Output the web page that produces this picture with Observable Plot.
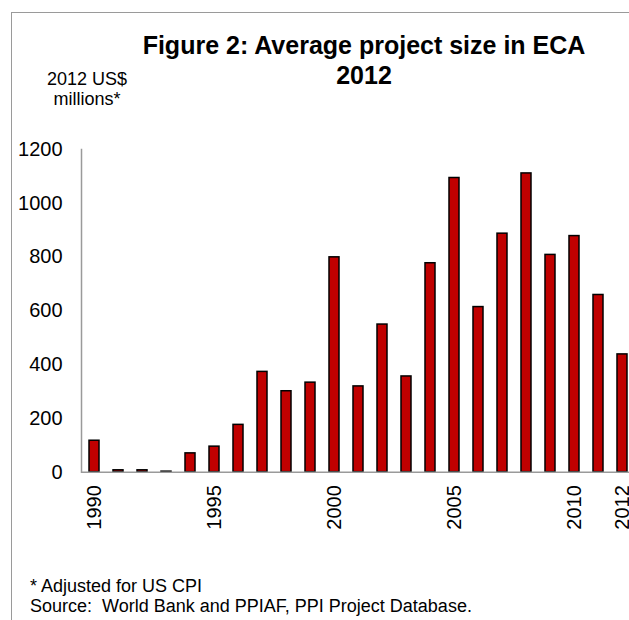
<!DOCTYPE html>
<html>
<head>
<meta charset="utf-8">
<script src="https://cdn.jsdelivr.net/npm/d3@7"></script>
<script src="https://cdn.jsdelivr.net/npm/@observablehq/plot@0.6"></script>
<style>
  html, body { margin: 0; padding: 0; background: #fff; }
  #wrap { position: relative; width: 629px; height: 620px; overflow: hidden; background: #fff;
          font-family: "Liberation Sans", Arial, sans-serif; color: #000; }
  #frame { position: absolute; left: 11px; top: 12px; width: 700px; height: 700px;
           border-top: 1.5px solid #9a9a9a; border-left: 1.5px solid #9a9a9a; }
  #title { position: absolute; left: 64px; width: 600px; top: 29.6px; text-align: center;
           font-weight: bold; font-size: 25px; line-height: 30px; }
  #unit { position: absolute; left: 7px; width: 160px; top: 68.8px; text-align: center;
          font-size: 18px; line-height: 20px; }
  #notes { position: absolute; left: 30px; top: 575.5px; font-size: 18px; line-height: 20px; white-space: pre; }
  #chart { position: absolute; left: 0; top: 0; width: 640px; }
  #chart svg { max-width: none !important; }
</style>
</head>
<body>
<div id="wrap">
  <div id="frame"></div>
  <div id="chart"></div>
  <div id="title">Figure 2: Average project size in ECA<br>2012</div>
  <div id="unit">2012 US$<br>millions*</div>
  <div id="notes">* Adjusted for US CPI
Source:  World Bank and PPIAF, PPI Project Database.</div>
</div>
<script>
const years = [1990, 1991, 1992, 1993, 1994, 1995, 1996, 1997, 1998, 1999, 2000, 2001,
               2002, 2003, 2004, 2005, 2006, 2007, 2008, 2009, 2010, 2011, 2012];
const avgSize = [117, 7, 7, 2, 70, 95, 176, 373, 301, 333, 799, 319,
                 549, 356, 777, 1094, 614, 887, 1111, 808, 878, 659, 438];
const xTickYears = [1990, 1995, 2000, 2005, 2010, 2012];
const yTicks = [0, 200, 400, 600, 800, 1000, 1200];

const data = years.map((year, i) => ({year, value: avgSize[i]}));

const chart = Plot.plot({
  width: 640,
  height: 541.7,
  marginLeft: 81,
  marginRight: 6.3,
  marginTop: 149,
  marginBottom: 70,
  style: {fontFamily: "'Liberation Sans', Arial, sans-serif", fontSize: "20px", color: "#000", background: "transparent", overflow: "visible", maxWidth: "none"},
  x: {type: "band", domain: years, paddingInner: 0.6, paddingOuter: 0.3, align: 0.5},
  y: {domain: [0, 1200]},
  marks: [
    Plot.axisY({ticks: yTicks, tickSize: 0, tickPadding: 19, tickFormat: d => `${d}`, label: null, fontSize: 20}),
    Plot.axisX({ticks: xTickYears, tickSize: 0, tickPadding: 13, tickRotate: -90,
                tickFormat: d => `${d}`, label: null, fontSize: 20}),
    Plot.barY(data, {x: "year", y: "value", fill: "#C00000", stroke: "#000", strokeWidth: 1.5}),
    Plot.frame({anchor: "left", stroke: "#9a9a9a", strokeWidth: 1.5}),
    Plot.ruleY([0], {stroke: "#9a9a9a", strokeWidth: 1.5})
  ]
});
document.getElementById("chart").appendChild(chart);
</script>
</body>
</html>
